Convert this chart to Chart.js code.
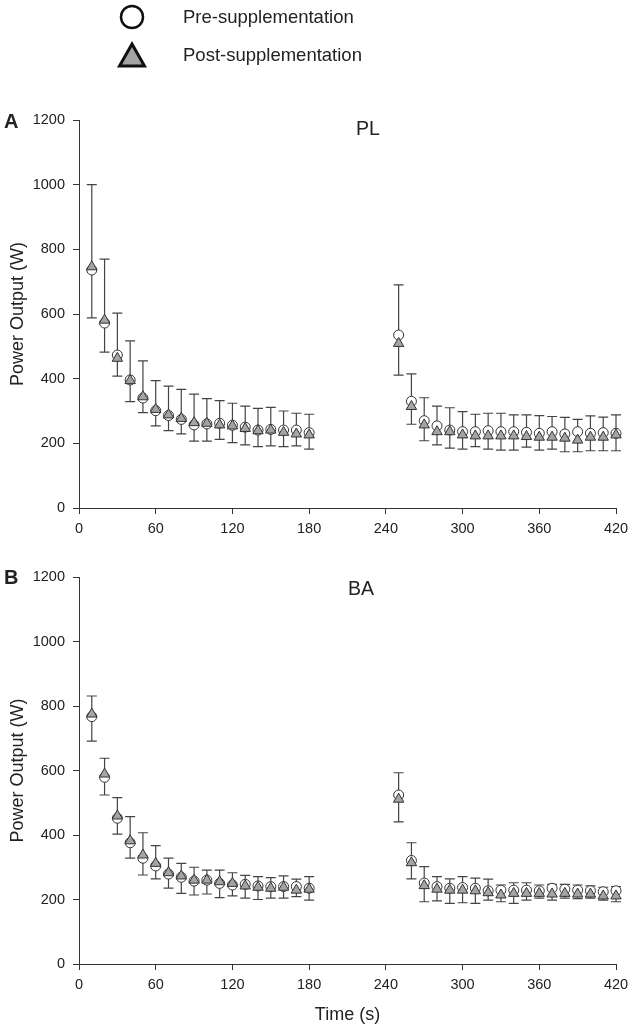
<html>
<head>
	<meta charset="utf-8">
	<title>Power output - PL / BA</title>
	<style>
		body { margin: 0; background: #fff; font-family: "Liberation Sans", Arial, sans-serif; color: #222; }
		#wrap { position: relative; width: 630px; height: 1030px; }
		canvas { position: absolute; left: 0; }
		.lbl { position: absolute; white-space: nowrap; line-height: 22px; }
		.leg { font-size: 18.5px; left: 183px; }
		.panel { font-size: 20px; font-weight: bold; left: 4px; }
		.ttl { font-size: 19.5px; }
	</style>
	<script src="https://cdn.jsdelivr.net/npm/chart.js@4.4.0/dist/chart.umd.min.js"></script>
</head>
<body>
<div id="wrap">
	<canvas id="chartA" width="630" height="550" style="top:0px;width:630px;height:550px"></canvas>
	<canvas id="chartB" width="630" height="480" style="top:550px;width:630px;height:480px"></canvas>

	<div class="lbl leg" style="top:6px">Pre-supplementation</div>
	<div class="lbl leg" style="top:44px">Post-supplementation</div>
	<div class="lbl panel" style="top:110px">A</div>
	<div class="lbl ttl" style="top:117px;left:356px">PL</div>
	<div class="lbl panel" style="top:566px">B</div>
	<div class="lbl ttl" style="top:577px;left:348px">BA</div>
</div>

<script type="text/javascript">
// time points (s): two sprint blocks
var times = [10, 20, 30, 40, 50, 60, 70, 80, 90, 100, 110, 120, 130, 140, 150, 160, 170, 180,
	250, 260, 270, 280, 290, 300, 310, 320, 330, 340, 350, 360, 370, 380, 390, 400, 410, 420];

var xTicks = [0, 60, 120, 180, 240, 300, 360, 420];
var yTicks = [0, 200, 400, 600, 800, 1000, 1200];

// PL group (panel A)
var plPre = [736, 572, 473, 396, 340, 301, 286, 274, 257, 260, 262, 256, 250, 241, 243, 241, 241, 233,
	535, 330, 270, 254, 241, 236, 236, 239, 236, 236, 234, 231, 236, 229, 236, 231, 233, 231];
var plPreSD = [264, 198, 130, 121, 115, 93, 91, 93, 95, 78, 70, 68, 65, 67, 68, 59, 52, 57,
	155, 85, 71, 61, 69, 62, 54, 54, 57, 52, 54, 55, 47, 51, 38, 54, 48, 57];
var plPost = [746, 581, 463, 394, 344, 305, 288, 277, 264, 262, 257, 254, 246, 239, 241, 234, 229, 226,
	509, 314, 257, 236, 236, 226, 223, 223, 223, 223, 221, 219, 219, 216, 210, 219, 219, 226];
var plPostSD = [158, 99, 55, 65, 49, 51, 49, 48, 57, 55, 45, 52, 51, 49, 49, 44, 37, 44,
	98, 55, 49, 41, 51, 44, 33, 41, 44, 44, 33, 40, 37, 42, 36, 42, 42, 49];

// BA group (panel B)
var baPre = [767, 579, 452, 376, 328, 304, 279, 269, 257, 260, 250, 245, 247, 242, 240, 240, 240, 235,
	524, 321, 251, 240, 235, 237, 235, 227, 229, 229, 229, 227, 235, 232, 229, 227, 224, 227];
var baPreSD = [64, 59, 64, 81, 79, 63, 49, 43, 43, 31, 41, 38, 28, 29, 28, 33, 23, 36,
	69, 55, 51, 31, 29, 34, 31, 36, 16, 23, 23, 18, 12, 15, 16, 15, 14, 13];
var baPost = [775, 589, 459, 382, 338, 312, 283, 273, 260, 260, 255, 250, 242, 238, 235, 238, 229, 232,
	511, 314, 243, 232, 229, 229, 227, 221, 214, 219, 219, 219, 217, 219, 217, 217, 211, 211];
var baPostSD = [84, 65, 56, 54, 62, 48, 48, 54, 46, 43, 49, 39, 38, 38, 31, 34, 20, 34,
	70, 50, 50, 36, 41, 39, 39, 23, 21, 31, 21, 15, 19, 15, 14, 13, 13, 18];

Chart.defaults.font.family = "'Liberation Sans', Arial, sans-serif";
Chart.defaults.color = "#222";

var axisColor = "#333";

function toPoints(vals) {
	return times.map(function (t, i) { return { x: t, y: vals[i] }; });
}

// SD bars: pre goes up, post goes down (as in the figure)
var errorBars = {
	id: "errorBars",
	beforeDatasetsDraw: function (chart) {
		var ctx = chart.ctx;
		var xs = chart.scales.x, ys = chart.scales.y;
		ctx.save();
		ctx.strokeStyle = "#444";
		ctx.lineWidth = 1.2;
		chart.data.datasets.forEach(function (ds) {
			ds.data.forEach(function (p, i) {
				var px = xs.getPixelForValue(p.x);
				var py = ys.getPixelForValue(p.y);
				var pe = ys.getPixelForValue(p.y + ds.errDir * ds.sd[i]);
				ctx.beginPath();
				ctx.moveTo(px, py);
				ctx.lineTo(px, pe);
				ctx.moveTo(px - 5, pe);
				ctx.lineTo(px + 5, pe);
				ctx.stroke();
			});
		});
		ctx.restore();
	}
};

// legend symbols at the top of the first canvas
var legendMarks = {
	id: "legendMarks",
	afterDraw: function (chart) {
		var ctx = chart.ctx;
		ctx.save();
		ctx.strokeStyle = "#111";
		ctx.lineWidth = 2.5;
		ctx.fillStyle = "#fff";
		ctx.beginPath();
		ctx.arc(132, 17, 11, 0, Math.PI * 2);
		ctx.fill();
		ctx.stroke();

		ctx.lineWidth = 3;
		ctx.lineJoin = "miter";
		ctx.fillStyle = "#a4a4a4";
		ctx.beginPath();
		ctx.moveTo(132, 44);
		ctx.lineTo(144.5, 66);
		ctx.lineTo(119.5, 66);
		ctx.closePath();
		ctx.fill();
		ctx.stroke();
		ctx.restore();
	}
};

function makeChart(id, pre, preSD, post, postSD, padTop, xHeight, showXTitle, extraPlugins) {
	var ctx = document.getElementById(id);
	return new Chart(ctx, {
		type: "scatter",
		data: {
			datasets: [
				{
					label: "Post-supplementation",
					data: toPoints(post),
					sd: postSD,
					errDir: -1,
					pointStyle: "triangle",
					pointRadius: 6,
					backgroundColor: "#a4a4a4",
					borderColor: "#333",
					borderWidth: 1,
					clip: false,
					order: 0
				},
				{
					label: "Pre-supplementation",
					data: toPoints(pre),
					sd: preSD,
					errDir: 1,
					pointStyle: "circle",
					pointRadius: 5,
					backgroundColor: "#fff",
					borderColor: "#333",
					borderWidth: 1,
					clip: false,
					order: 1
				}
			]
		},
		options: {
			responsive: false,
			animation: false,
			devicePixelRatio: 1,
			layout: { padding: { top: padTop, right: 14, left: 0, bottom: 0 } },
			plugins: { legend: { display: false }, tooltip: { enabled: false } },
			scales: {
				x: {
					type: "linear",
					min: 0,
					max: 420,
					afterBuildTicks: function (s) { s.ticks = xTicks.map(function (v) { return { value: v }; }); },
					afterFit: function (s) { s.height = xHeight; s.paddingLeft = 0; s.paddingRight = 0; },
					ticks: { font: { size: 14.5 }, padding: 6, maxRotation: 0, callback: function (v) { return String(v); } },
					grid: { display: true, drawOnChartArea: false, drawTicks: true, tickLength: 6, color: axisColor },
					border: { display: true, color: axisColor, width: 1 },
					title: { display: showXTitle, text: "Time (s)", font: { size: 18 }, padding: { top: 0, bottom: 4 } }
				},
				y: {
					min: 0,
					max: 1200,
					afterBuildTicks: function (s) { s.ticks = yTicks.map(function (v) { return { value: v }; }); },
					afterFit: function (s) { s.width = 79; s.paddingTop = 0; s.paddingBottom = 0; },
					ticks: { font: { size: 14.5 }, padding: 8, callback: function (v) { return String(v); } },
					grid: { display: true, drawOnChartArea: false, drawTicks: true, tickLength: 6, color: axisColor },
					border: { display: true, color: axisColor, width: 1 },
					title: { display: true, text: "Power Output (W)", font: { size: 18 }, padding: { top: 7, bottom: 0 } }
				}
			}
		},
		plugins: [errorBars].concat(extraPlugins)
	});
}

makeChart("chartA", plPre, plPreSD, plPost, plPostSD, 120, 42, false, [legendMarks]);
makeChart("chartB", baPre, baPreSD, baPost, baPostSD, 27, 66, true, []);
</script>
</body>
</html>
